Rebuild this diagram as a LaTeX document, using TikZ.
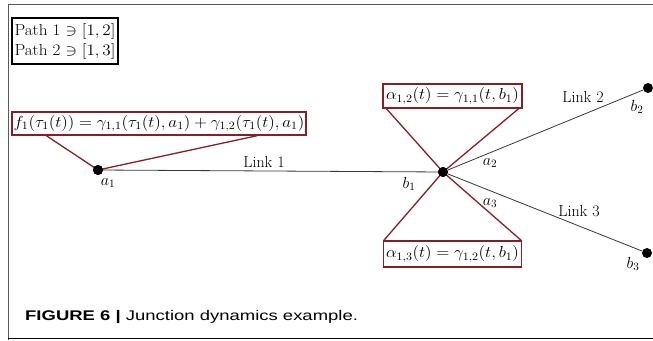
\RequirePackage{fix-cm}
\documentclass[tikz,border=0pt]{standalone}
\usepackage{fontspec}
\newfontfamily\capfont{Liberation Sans}
\usepackage{graphicx}
\usetikzlibrary{calc}
\definecolor{boxred}{RGB}{135,30,38}
\definecolor{linkgray}{RGB}{55,55,55}
\newcommand\hst[1]{\scalebox{1.07}[1]{#1}}
\begin{document}
\begin{tikzpicture}[x=1pt,y=-1pt,
  mathfont/.style={font=\fontsize{16}{20}\selectfont},
  redbox/.style={draw=boxred, line width=1.3pt, inner sep=0pt, mathfont},
  pathbox/.style={draw=black, line width=1.3pt, inner sep=2pt, align=left, mathfont},
  dot/.style={circle, fill=black, inner sep=0pt, minimum size=10pt},
  link/.style={draw=linkgray, line width=0.8pt},
  redline/.style={draw=boxred, line width=1.3pt},
  lbl/.style={mathfont, inner sep=0pt}]
\useasboundingbox (0,0) rectangle (653,340);
% outer frame
\draw[gray!70!black, line width=1pt] (8,340) -- (8,4) -- (653,4);
\draw[black, line width=1pt] (8,338) -- (653,338);

% path box
\node[pathbox, minimum width=106pt, minimum height=46pt] (paths) at (65,41)
  {\hst{Path 1 $\ni[1,2]$}\\\hst{Path 2 $\ni[1,3]$}};

% dots
\node[dot] (a1) at (98,170) {};
\node[dot] (J) at (443,172) {};
\node[dot] (e2) at (648,88) {};
\node[dot] (e3) at (647,253) {};

% links
\draw[link] (a1) -- (J);
\draw[link] (J) -- (e2);
\draw[link] (J) -- (e3);

% boxes
\node[redbox, minimum width=294pt, minimum height=23pt] (f1) at (159,123.5)
  {\hst{$f_1(\tau_1(t))=\gamma_{1,1}(\tau_1(t),a_1)+\gamma_{1,2}(\tau_1(t),a_1)$}};
\node[redbox, minimum width=139pt, minimum height=24pt] (al12) at (452.5,96)
  {\hst{$\alpha_{1,2}(t)=\gamma_{1,1}(t,b_1)$}};
\node[redbox, minimum width=138pt, minimum height=26pt] (al13) at (452.5,254)
  {\hst{$\alpha_{1,3}(t)=\gamma_{1,2}(t,b_1)$}};

% red connectors
\draw[redline] ($(f1.south west)+(35,0)$) -- (a1.center);
\draw[redline] ($(f1.south west)+(246,0)$) -- (a1.center);
\draw[redline] ($(al12.south west)+(4,0)$) -- (J.center);
\draw[redline] ($(al12.south east)+(-4,0)$) -- (J.center);
\draw[redline] ($(al13.north west)+(1,0)$) -- (J.center);
\draw[redline] ($(al13.north east)+(-1,0)$) -- (J.center);
\node[dot] at (a1) {};
\node[dot] at (J) {};

% labels
\node[lbl] (link1) at (264,162) {Link 1};
\node[lbl] (link2) at (583,97) {Link 2};
\node[lbl] (link3) at (579,211) {Link 3};
\node[lbl] (la1) at (108,183) {$a_1$};
\node[lbl] (lb1) at (409,184) {$b_1$};
\node[lbl] (la2) at (490,163) {$a_2$};
\node[lbl] (la3) at (490,203) {$a_3$};
\node[lbl] (lb2) at (637,107) {$b_2$};
\node[lbl] (lb3) at (633,264) {$b_3$};

% caption
\node[anchor=base west, inner sep=0pt, font=\capfont\fontsize{14}{17}\selectfont] (cap) at (25,320)
  {\scalebox{1.32}[1]{\textbf{FIGURE 6 |} Junction dynamics example.}};
\end{tikzpicture}
\end{document}
